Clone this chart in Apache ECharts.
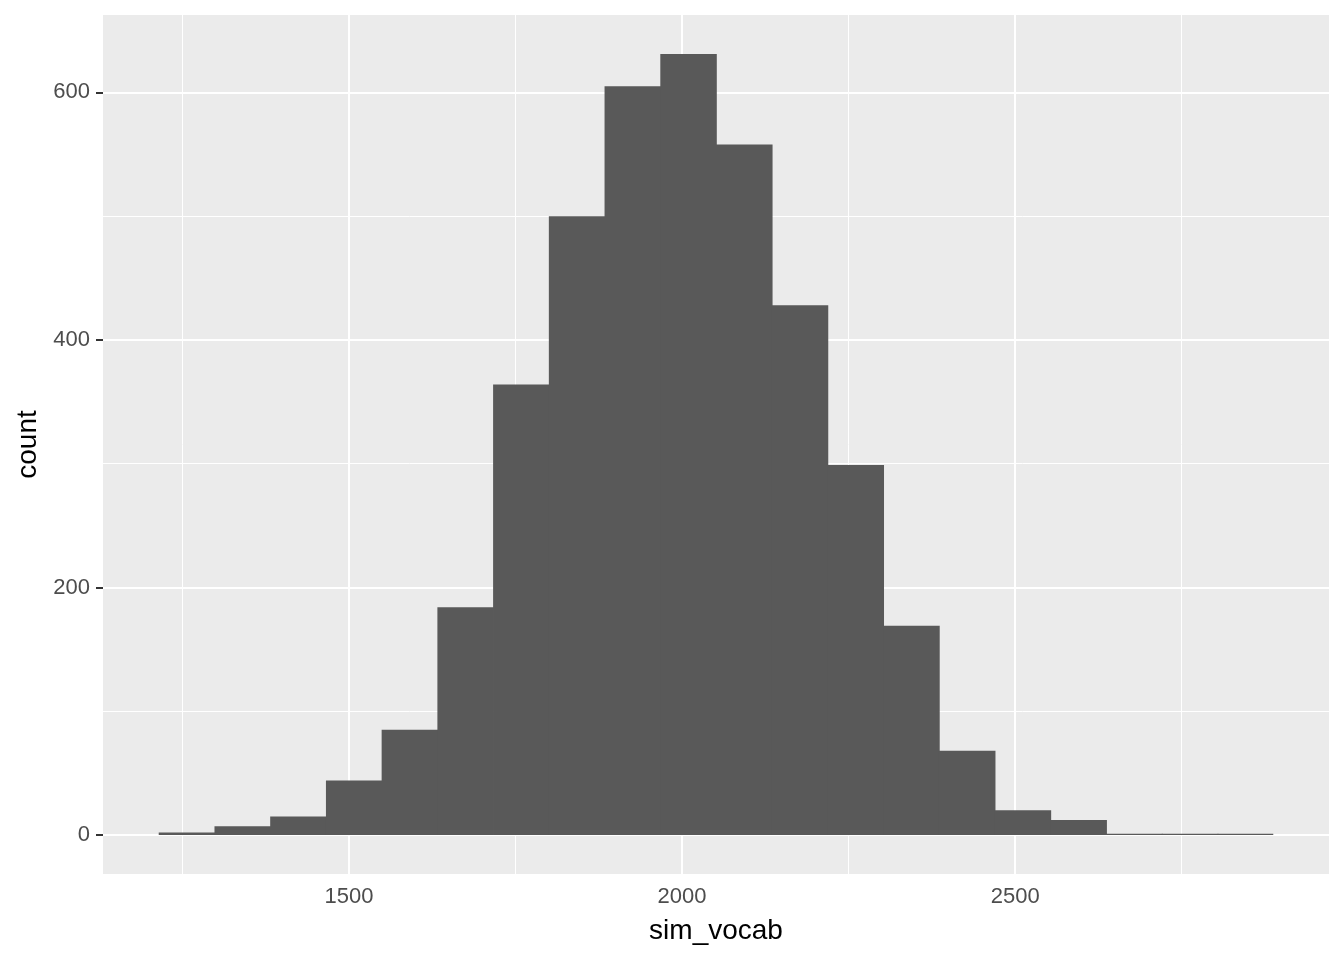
<!DOCTYPE html>
<html>
<head>
<meta charset="utf-8">
<script src="https://cdn.jsdelivr.net/npm/echarts@6/dist/echarts.min.js"></script>
<style>
html,body{margin:0;padding:0;background:#fff;}
#chart{width:1344px;height:960px;}
</style>
</head>
<body>
<div id="chart"></div>
<script>
// Histogram bin edges (sim_vocab) and counts
var binEdges = [1214.4, 1298.1, 1381.7, 1465.4, 1549.0, 1632.7, 1716.3, 1800.0, 1883.6, 1967.3,
                2050.9, 2134.6, 2218.2, 2301.9, 2385.5, 2469.2, 2552.8, 2636.5, 2720.1, 2803.8, 2887.4];
var counts = [2, 7, 15, 44, 85, 184, 364, 500, 605, 631, 558, 428, 299, 169, 68, 20, 12, 1, 1, 1];
// Tick labels / grid breaks
var xMajor = [1500, 2000, 2500];
var xMinor = [1250, 1750, 2250, 2750];
var yMajor = [0, 200, 400, 600];
var yMinor = [100, 300, 500];

var xMin = binEdges[0] - (binEdges[binEdges.length - 1] - binEdges[0]) * 0.05;
var xMax = binEdges[binEdges.length - 1] + (binEdges[binEdges.length - 1] - binEdges[0]) * 0.05;
var cMax = Math.max.apply(null, counts);
var yMin = -cMax * 0.05;
var yMax = cMax * 1.05;

var histData = counts.map(function (c, i) { return [binEdges[i], binEdges[i + 1], c, i]; });

var FONT = '"Liberation Sans", Arial, Helvetica, sans-serif';

function vLines(vals) { return vals.map(function (v) { return { xAxis: v }; }); }
function hLines(vals) { return vals.map(function (v) { return { yAxis: v }; }); }
function plain(v) { return String(v); }

var chart = echarts.init(document.getElementById('chart'), null, { renderer: 'canvas' });
chart.setOption({
  animation: false,
  backgroundColor: '#ffffff',
  grid: {
    left: 103, right: 15, top: 15, bottom: 86,
    show: true, backgroundColor: '#EBEBEB', borderWidth: 0
  },
  xAxis: {
    type: 'value',
    min: xMin, max: xMax,
    name: 'sim_vocab',
    nameLocation: 'middle',
    nameGap: 43,
    nameTextStyle: { color: '#000000', fontSize: 28, fontFamily: FONT, verticalAlign: 'top' },
    axisLine: { show: false },
    axisTick: { show: true, customValues: xMajor, length: 7, lineStyle: { color: '#333333', width: 2 } },
    axisLabel: { customValues: xMajor, formatter: plain, color: '#4D4D4D', fontSize: 22, fontFamily: FONT, margin: 12 },
    splitLine: { show: false },
    minorSplitLine: { show: false }
  },
  yAxis: {
    type: 'value',
    min: yMin, max: yMax,
    name: 'count',
    nameLocation: 'middle',
    nameGap: 61,
    nameRotate: 90,
    nameTextStyle: { color: '#000000', fontSize: 28, fontFamily: FONT },
    axisLine: { show: false },
    axisTick: { show: true, customValues: yMajor, length: 7, lineStyle: { color: '#333333', width: 2 } },
    axisLabel: { customValues: yMajor, formatter: plain, color: '#4D4D4D', fontSize: 22, fontFamily: FONT, margin: 13 },
    splitLine: { show: false }
  },
  series: [
    {
      type: 'line', data: [], z: 1, silent: true,
      markLine: {
        silent: true, symbol: 'none', animation: false,
        label: { show: false },
        lineStyle: { color: '#ffffff', width: 1, type: 'solid' },
        data: vLines(xMinor).concat(hLines(yMinor))
      }
    },
    {
      type: 'line', data: [], z: 2, silent: true,
      markLine: {
        silent: true, symbol: 'none', animation: false,
        label: { show: false },
        lineStyle: { color: '#ffffff', width: 2, type: 'solid' },
        data: vLines(xMajor).concat(hLines(yMajor))
      }
    },
    {
      type: 'custom', z: 5, silent: true,
      data: histData,
      encode: { x: [0, 1], y: 2 },
      renderItem: function (params, api) {
        var p0 = api.coord([api.value(0), api.value(2)]);
        var p1 = api.coord([api.value(1), 0]);
        var last = api.value(3) === counts.length - 1;
        return {
          type: 'rect',
          shape: { x: p0[0], y: p0[1], width: p1[0] - p0[0] + (last ? 0 : 0.8), height: p1[1] - p0[1] },
          style: { fill: '#595959' }
        };
      }
    }
  ]
});
</script>
</body>
</html>
